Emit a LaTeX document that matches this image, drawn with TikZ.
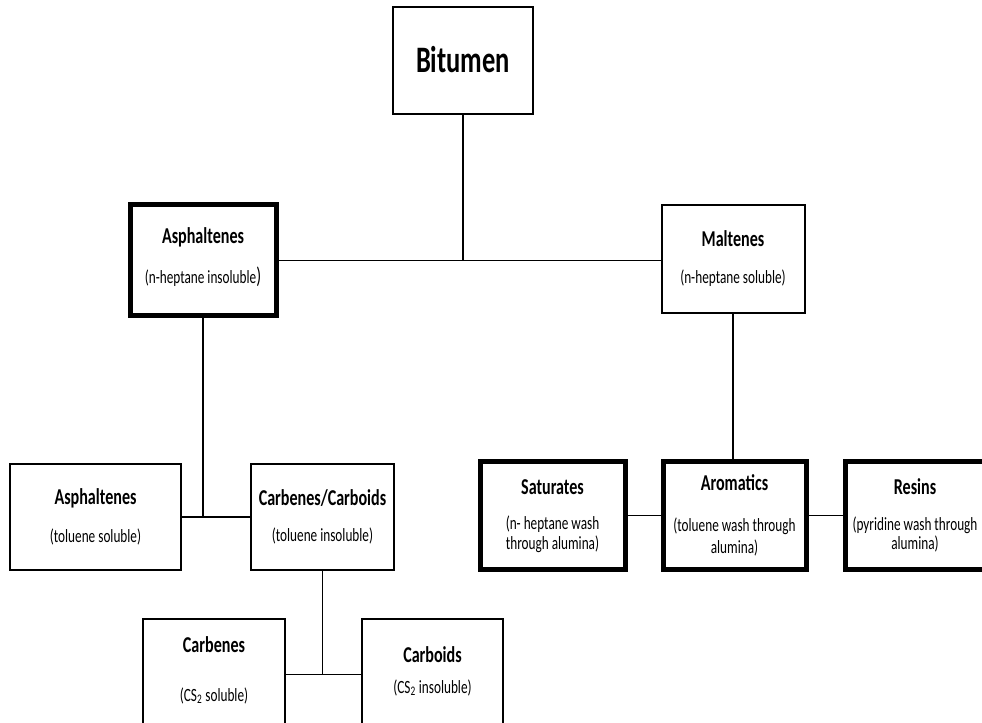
\documentclass[tikz,border=0pt]{standalone}
\usepackage{fontspec}
\setmainfont{Carlito}[FakeStretch=0.71]
\begin{document}
\begin{tikzpicture}[x=0.75pt,y=-0.75pt,
  box/.style={draw, line width=1.5pt, inner sep=0pt, outer sep=0pt},
  thickbox/.style={box, line width=3.75pt},
  bigtitle/.style={font=\bfseries\fontsize{28}{30}\selectfont, anchor=base, inner sep=0pt},
  title/.style={font=\bfseries\fontsize{17}{20}\selectfont, anchor=base, inner sep=0pt},
  sub/.style={font=\fontsize{14}{16}\selectfont, anchor=base, inner sep=0pt},
  link/.style={line width=1.4pt}]
\useasboundingbox (0,0) rectangle (982,723);
\clip (0,0) rectangle (982,723);
\fill[white] (0,0) rectangle (982,723);

% boxes
\node[box, minimum width=105pt, minimum height=80.25pt] (bit) at (463,60.5) {};
\node[thickbox, minimum width=109.5pt, minimum height=83.25pt] (asp) at (203,260.5) {};
\node[box, minimum width=107.25pt, minimum height=81pt] (mal) at (733,259) {};
\node[box, minimum width=128.25pt, minimum height=79.5pt] (tol) at (95.5,517) {};
\node[box, minimum width=107.25pt, minimum height=79.5pt] (cc) at (322.5,517) {};
\node[box, minimum width=106.5pt, minimum height=83.25pt] (cbn) at (214,674.5) {};
\node[box, minimum width=105.75pt, minimum height=83.25pt] (cbd) at (432.5,674.5) {};
\node[thickbox, minimum width=108.75pt, minimum height=80.25pt] (sat) at (552.5,515.5) {};
\node[thickbox, minimum width=107.25pt, minimum height=80.25pt] (aro) at (734.5,515.5) {};
\node[thickbox, minimum width=108.75pt, minimum height=80.25pt] (res) at (917.5,515.5) {};

% connectors
\draw[link] (bit.south) -- (bit.south |- asp.east);
\draw[link] (asp.east) -- (asp.east -| mal.west);
\draw[link] (mal.south) -- (mal.south |- aro.north);
\draw[link] (asp.south) -- (asp.south |- tol.east);
\draw[link] (tol.east) -- (cc.west);
\draw[link] (cc.south) -- (cc.south |- cbn.east);
\draw[link] (cbn.east) -- (cbd.west);
\draw[link] (sat.east) -- (aro.west);
\draw[link] (aro.east) -- (res.west);

% texts
\node[bigtitle] (tbit) at (463,73) {Bitumen};
\node[title] (tasp) at (203,244) {Asphaltenes};
\node[sub] (sasp) at (203,284) {(n-heptane insoluble{\fontsize{17}{18}\selectfont)}};
\node[title] (tmal) at (733,247) {Maltenes};
\node[sub] (smal) at (733,284) {(n-heptane soluble)};
\node[title] (ttol) at (95.5,504) {Asphaltenes};
\node[sub] (stol) at (95.5,542) {(toluene soluble)};
\node[title] (tcc) at (322.5,505) {Carbenes/Carboids};
\node[sub] (scc) at (322.5,541) {(toluene insoluble)};
\node[title] (tcbn) at (214,652) {Carbenes};
\node[sub] (scbn) at (214,701) {(CS\textsubscript{2} soluble)};
\node[title] (tcbd) at (432.5,662) {Carboids};
\node[sub] (scbd) at (432.5,693) {(CS\textsubscript{2} insoluble)};
\node[title] (tsat) at (552.5,494) {Saturates};
\node[sub] (ssat1) at (552.5,529) {(n- heptane wash};
\node[sub] (ssat2) at (552.5,549) {through alumina)};
\node[title] (taro) at (734.5,490) {Aromatics};
\node[sub] (saro1) at (734.5,532) {(toluene wash through};
\node[sub] (saro2) at (734.5,553) {alumina)};
\node[title] (tres) at (915,494) {Resins};
\node[sub] (sres1) at (915,530) {(pyridine wash through};
\node[sub] (sres2) at (915,549) {alumina)};
\end{tikzpicture}
\end{document}
